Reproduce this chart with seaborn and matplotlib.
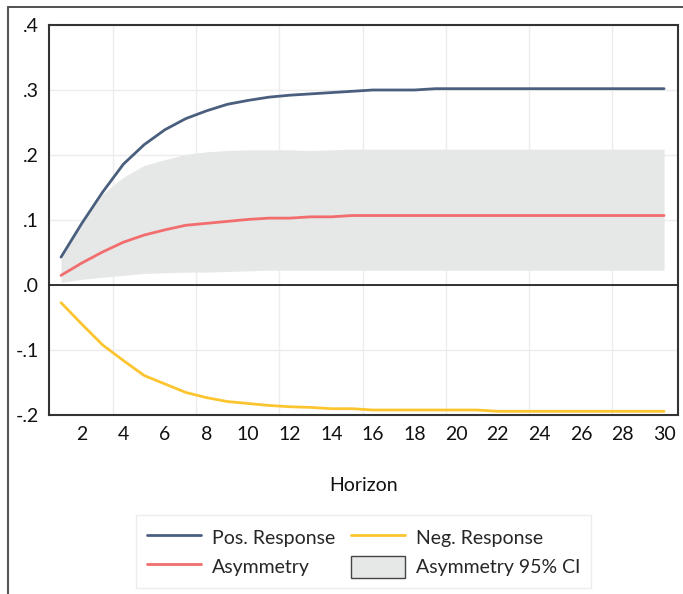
import matplotlib.pyplot as plt
import matplotlib.lines as mlines
import matplotlib.patches as mpatches
import pandas as pd
import seaborn as sns

horizon = list(range(1, 31))
pos_response = [0.043, 0.095, 0.143, 0.186, 0.216, 0.239, 0.256, 0.268, 0.278, 0.284,
                0.289, 0.292, 0.294, 0.296, 0.298, 0.300, 0.300, 0.300, 0.302, 0.302,
                0.302, 0.302, 0.302, 0.302, 0.302, 0.302, 0.302, 0.302, 0.302, 0.302]
neg_response = [-0.027, -0.060, -0.092, -0.116, -0.139, -0.152, -0.165, -0.173, -0.179, -0.182,
                -0.185, -0.187, -0.188, -0.190, -0.190, -0.192, -0.192, -0.192, -0.192, -0.192,
                -0.192, -0.194, -0.194, -0.194, -0.194, -0.194, -0.194, -0.194, -0.194, -0.194]
asymmetry = [0.015, 0.034, 0.051, 0.066, 0.077, 0.085, 0.092, 0.095, 0.098, 0.101,
             0.103, 0.103, 0.105, 0.105, 0.107, 0.107, 0.107, 0.107, 0.107, 0.107,
             0.107, 0.107, 0.107, 0.107, 0.107, 0.107, 0.107, 0.107, 0.107, 0.107]
ci_upper = [0.040, 0.095, 0.140, 0.166, 0.184, 0.193, 0.201, 0.205, 0.207, 0.208,
            0.208, 0.208, 0.207, 0.208, 0.209, 0.209, 0.209, 0.209, 0.209, 0.209,
            0.209, 0.209, 0.209, 0.209, 0.209, 0.209, 0.209, 0.209, 0.209, 0.209]
ci_lower = [0.004, 0.009, 0.012, 0.015, 0.018, 0.019, 0.020, 0.020, 0.021, 0.022,
            0.023, 0.023, 0.023, 0.023, 0.023, 0.023, 0.023, 0.023, 0.023, 0.023,
            0.023, 0.023, 0.023, 0.023, 0.023, 0.023, 0.023, 0.023, 0.023, 0.023]

y_ticks = [-0.2, -0.1, 0.0, 0.1, 0.2, 0.3, 0.4]
y_labels = ['-.2', '-.1', '.0', '.1', '.2', '.3', '.4']
x_ticks = list(range(2, 31, 2))

df = pd.DataFrame({'h': horizon, 'pos': pos_response, 'neg': neg_response, 'asym': asymmetry})

sns.set_style('white')
plt.rcParams['font.family'] = ['Lato', 'DejaVu Sans']

c_pos = '#4a5f7e'
c_neg = '#fcc530'
c_asym = '#f26d6d'
c_band = '#e6e7e7'

fig = plt.figure(figsize=(6.83, 5.94), dpi=100)
ax = fig.add_axes([0.0717, 0.301, 0.921, 0.657])

ax.fill_between(horizon, ci_lower, ci_upper, color=c_band, lw=0, zorder=1)
sns.lineplot(data=df, x='h', y='pos', ax=ax, color=c_pos, lw=2, zorder=3)
sns.lineplot(data=df, x='h', y='neg', ax=ax, color=c_neg, lw=2, zorder=3)
sns.lineplot(data=df, x='h', y='asym', ax=ax, color=c_asym, lw=2, zorder=3)

ax.axhline(0, color='#222222', lw=1.3, zorder=4)

ax.set_xlim(0.42, 30.67)
ax.set_ylim(-0.2, 0.4)
ax.set_yticks(y_ticks)
ax.set_yticklabels(y_labels)
ax.set_xticks(x_ticks)
ax.set_xticks([3.5 + 4 * i for i in range(7)], minor=True)
ax.tick_params(axis='both', which='both', length=0, labelsize=14, colors='#111111')
ax.tick_params(axis='y', pad=7)
ax.tick_params(axis='x', pad=8)
ax.grid(axis='x', which='minor', color='#ececec', lw=1, zorder=0)
ax.grid(axis='y', which='major', color='#ececec', lw=1, zorder=0)
ax.set_axisbelow(True)
ax.set_xlabel('')
ax.set_ylabel('')
for s in ax.spines.values():
    s.set_color('#333333')
    s.set_linewidth(1.5)

fig.text(0.532, 0.183, 'Horizon', ha='center', va='center', fontsize=14, color='#111111')

# matplotlib fills legend columns first, so order handles to read row-wise
handles = [
    mlines.Line2D([], [], color=c_pos, lw=2),
    mlines.Line2D([], [], color=c_asym, lw=2),
    mlines.Line2D([], [], color=c_neg, lw=2),
    mpatches.Patch(facecolor=c_band, edgecolor='#444444', lw=1),
]
labels = ['Pos. Response', 'Asymmetry', 'Neg. Response', 'Asymmetry 95% CI']
leg = fig.legend(handles, labels, ncol=2, loc='center', bbox_to_anchor=(0.532, 0.071),
                 fontsize=14, frameon=True, fancybox=False, handlelength=2.8,
                 handleheight=1.35, handletextpad=0.55, columnspacing=0.8,
                 borderpad=0.55, labelspacing=0.4)
leg.get_frame().set_edgecolor('#e8e8e8')
leg.get_frame().set_linewidth(1)

# outer frame (top and left edges of the surrounding box)
fig.add_artist(mlines.Line2D([0.012, 1.0], [0.988, 0.988], color='#333333', lw=1.2))
fig.add_artist(mlines.Line2D([0.012, 0.012], [0.0, 0.988], color='#555555', lw=1.5))

fig.savefig('out.png', dpi=100)
